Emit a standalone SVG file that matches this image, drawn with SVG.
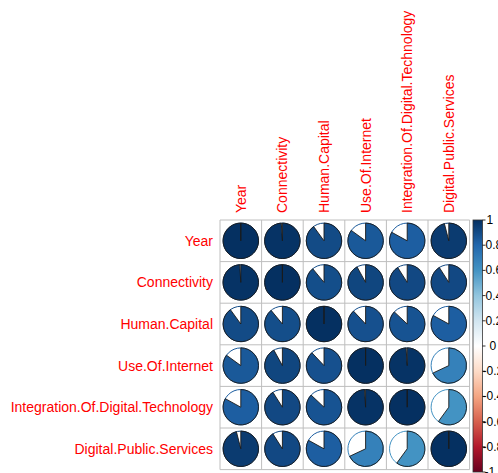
<svg xmlns="http://www.w3.org/2000/svg" width="498" height="473" viewBox="0 0 498 473">
<style>
.lbl{font-family:"Liberation Sans",Arial,sans-serif;font-size:14px;fill:#FF0000}
.cl{font-family:"Liberation Sans",Arial,sans-serif;font-size:12px;fill:#000}
.grid line{stroke:#BEBEBE;stroke-width:1}
.bg{fill:#fff;stroke-width:1}
.wd{stroke:#1a1a1a;stroke-width:0.9}
.tick{stroke:#000;stroke-width:0.8}
</style>
<defs>
<linearGradient id="rdbu" x1="0" y1="0" x2="0" y2="1">
<stop offset="0" stop-color="#053061"/>
<stop offset="0.1" stop-color="#2166AC"/>
<stop offset="0.2" stop-color="#4393C3"/>
<stop offset="0.3" stop-color="#92C5DE"/>
<stop offset="0.4" stop-color="#D1E5F0"/>
<stop offset="0.5" stop-color="#FFFFFF"/>
<stop offset="0.6" stop-color="#FDDBC7"/>
<stop offset="0.7" stop-color="#F4A582"/>
<stop offset="0.8" stop-color="#D6604D"/>
<stop offset="0.9" stop-color="#B2182B"/>
<stop offset="1" stop-color="#67001F"/>
</linearGradient>
</defs>
<rect width="498" height="473" fill="#fff"/>
<g id="col-labels">
<text class="lbl" dominant-baseline="central" transform="translate(240.8,213) rotate(-90)">Year</text>
<text class="lbl" dominant-baseline="central" transform="translate(282.4,213) rotate(-90)">Connectivity</text>
<text class="lbl" dominant-baseline="central" transform="translate(324,213) rotate(-90)">Human.Capital</text>
<text class="lbl" dominant-baseline="central" transform="translate(365.6,213) rotate(-90)">Use.Of.Internet</text>
<text class="lbl" dominant-baseline="central" transform="translate(407.2,213) rotate(-90)">Integration.Of.Digital.Technology</text>
<text class="lbl" dominant-baseline="central" transform="translate(448.8,213) rotate(-90)">Digital.Public.Services</text>
</g>
<g id="row-labels">
<text class="lbl" text-anchor="end" dominant-baseline="central" x="213" y="240.8">Year</text>
<text class="lbl" text-anchor="end" dominant-baseline="central" x="213" y="282.4">Connectivity</text>
<text class="lbl" text-anchor="end" dominant-baseline="central" x="213" y="324">Human.Capital</text>
<text class="lbl" text-anchor="end" dominant-baseline="central" x="213" y="365.6">Use.Of.Internet</text>
<text class="lbl" text-anchor="end" dominant-baseline="central" x="213" y="407.2">Integration.Of.Digital.Technology</text>
<text class="lbl" text-anchor="end" dominant-baseline="central" x="213" y="448.8">Digital.Public.Services</text>
</g>
<g id="grid" class="grid">
<line x1="220" y1="220" x2="220" y2="469.6"/>
<line x1="261.6" y1="220" x2="261.6" y2="469.6"/>
<line x1="303.2" y1="220" x2="303.2" y2="469.6"/>
<line x1="344.8" y1="220" x2="344.8" y2="469.6"/>
<line x1="386.4" y1="220" x2="386.4" y2="469.6"/>
<line x1="428" y1="220" x2="428" y2="469.6"/>
<line x1="469.6" y1="220" x2="469.6" y2="469.6"/>
<line x1="220" y1="220" x2="469.6" y2="220"/>
<line x1="220" y1="261.6" x2="469.6" y2="261.6"/>
<line x1="220" y1="303.2" x2="469.6" y2="303.2"/>
<line x1="220" y1="344.8" x2="469.6" y2="344.8"/>
<line x1="220" y1="386.4" x2="469.6" y2="386.4"/>
<line x1="220" y1="428" x2="469.6" y2="428"/>
<line x1="220" y1="469.6" x2="469.6" y2="469.6"/>
</g>
<g id="connectors"></g>
<!-- Row 0: Year -->
<g id="c00" transform="translate(240.8,240.8)"><circle class="bg" r="17.7" stroke="#053061"/><path class="wd" fill="#053061" d="M0 0V-17.7A17.7 17.7 0 1 1 -0.01 -17.7Z"/></g>
<g id="c01" transform="translate(282.4,240.8)"><circle class="bg" r="17.7" stroke="#063365"/><path class="wd" fill="#063365" d="M0 0V-17.7A17.7 17.7 0 1 1 -1.11 -17.67Z"/></g>
<g id="c02" transform="translate(324,240.8)"><circle class="bg" r="17.7" stroke="#134B86"/><path class="wd" fill="#134B86" d="M0 0V-17.7A17.7 17.7 0 1 1 -10.4 -14.32Z"/></g>
<g id="c03" transform="translate(365.6,240.8)"><circle class="bg" r="17.7" stroke="#1A5999"/><path class="wd" fill="#1A5999" d="M0 0V-17.7A17.7 17.7 0 1 1 -14.32 -10.4Z"/></g>
<g id="c04" transform="translate(407.2,240.8)"><circle class="bg" r="17.7" stroke="#1D5EA1"/><path class="wd" fill="#1D5EA1" d="M0 0V-17.7A17.7 17.7 0 1 1 -15.51 -8.53Z"/></g>
<g id="c05" transform="translate(448.8,240.8)"><circle class="bg" r="17.7" stroke="#0B3B70"/><path class="wd" fill="#0B3B70" d="M0 0V-17.7A17.7 17.7 0 1 1 -4.4 -17.14Z"/></g>
<!-- Row 1: Connectivity -->
<g id="c10" transform="translate(240.8,282.4)"><circle class="bg" r="17.7" stroke="#063365"/><path class="wd" fill="#063365" d="M0 0V-17.7A17.7 17.7 0 1 1 -1.11 -17.67Z"/></g>
<g id="c11" transform="translate(282.4,282.4)"><circle class="bg" r="17.7" stroke="#053061"/><path class="wd" fill="#053061" d="M0 0V-17.7A17.7 17.7 0 1 1 -0.01 -17.7Z"/></g>
<g id="c12" transform="translate(324,282.4)"><circle class="bg" r="17.7" stroke="#144E8A"/><path class="wd" fill="#144E8A" d="M0 0V-17.7A17.7 17.7 0 1 1 -11.28 -13.64Z"/></g>
<g id="c13" transform="translate(365.6,282.4)"><circle class="bg" r="17.7" stroke="#10467F"/><path class="wd" fill="#10467F" d="M0 0V-17.7A17.7 17.7 0 1 1 -8.53 -15.51Z"/></g>
<g id="c14" transform="translate(407.2,282.4)"><circle class="bg" r="17.7" stroke="#124883"/><path class="wd" fill="#124883" d="M0 0V-17.7A17.7 17.7 0 1 1 -9.48 -14.94Z"/></g>
<g id="c15" transform="translate(448.8,282.4)"><circle class="bg" r="17.7" stroke="#124883"/><path class="wd" fill="#124883" d="M0 0V-17.7A17.7 17.7 0 1 1 -9.48 -14.94Z"/></g>
<!-- Row 2: Human.Capital -->
<g id="c20" transform="translate(240.8,324)"><circle class="bg" r="17.7" stroke="#134B86"/><path class="wd" fill="#134B86" d="M0 0V-17.7A17.7 17.7 0 1 1 -10.4 -14.32Z"/></g>
<g id="c21" transform="translate(282.4,324)"><circle class="bg" r="17.7" stroke="#144E8A"/><path class="wd" fill="#144E8A" d="M0 0V-17.7A17.7 17.7 0 1 1 -11.28 -13.64Z"/></g>
<g id="c22" transform="translate(324,324)"><circle class="bg" r="17.7" stroke="#053061"/><path class="wd" fill="#053061" d="M0 0V-17.7A17.7 17.7 0 1 1 -0.01 -17.7Z"/></g>
<g id="c23" transform="translate(365.6,324)"><circle class="bg" r="17.7" stroke="#16508E"/><path class="wd" fill="#16508E" d="M0 0V-17.7A17.7 17.7 0 1 1 -12.12 -12.9Z"/></g>
<g id="c24" transform="translate(407.2,324)"><circle class="bg" r="17.7" stroke="#175392"/><path class="wd" fill="#175392" d="M0 0V-17.7A17.7 17.7 0 1 1 -12.9 -12.12Z"/></g>
<g id="c25" transform="translate(448.8,324)"><circle class="bg" r="17.7" stroke="#1D5EA1"/><path class="wd" fill="#1D5EA1" d="M0 0V-17.7A17.7 17.7 0 1 1 -15.51 -8.53Z"/></g>
<!-- Row 3: Use.Of.Internet -->
<g id="c30" transform="translate(240.8,365.6)"><circle class="bg" r="17.7" stroke="#1A5999"/><path class="wd" fill="#1A5999" d="M0 0V-17.7A17.7 17.7 0 1 1 -14.32 -10.4Z"/></g>
<g id="c31" transform="translate(282.4,365.6)"><circle class="bg" r="17.7" stroke="#10467F"/><path class="wd" fill="#10467F" d="M0 0V-17.7A17.7 17.7 0 1 1 -8.53 -15.51Z"/></g>
<g id="c32" transform="translate(324,365.6)"><circle class="bg" r="17.7" stroke="#16508E"/><path class="wd" fill="#16508E" d="M0 0V-17.7A17.7 17.7 0 1 1 -12.12 -12.9Z"/></g>
<g id="c33" transform="translate(365.6,365.6)"><circle class="bg" r="17.7" stroke="#053061"/><path class="wd" fill="#053061" d="M0 0V-17.7A17.7 17.7 0 1 1 -0.01 -17.7Z"/></g>
<g id="c34" transform="translate(407.2,365.6)"><circle class="bg" r="17.7" stroke="#063365"/><path class="wd" fill="#063365" d="M0 0V-17.7A17.7 17.7 0 1 1 -1.11 -17.67Z"/></g>
<g id="c35" transform="translate(448.8,365.6)"><circle class="bg" r="17.7" stroke="#3581BA"/><path class="wd" fill="#3581BA" d="M0 0V-17.7A17.7 17.7 0 1 1 -16.01 7.54Z"/></g>
<!-- Row 4: Integration -->
<g id="c40" transform="translate(240.8,407.2)"><circle class="bg" r="17.7" stroke="#1D5EA1"/><path class="wd" fill="#1D5EA1" d="M0 0V-17.7A17.7 17.7 0 1 1 -15.51 -8.53Z"/></g>
<g id="c41" transform="translate(282.4,407.2)"><circle class="bg" r="17.7" stroke="#124883"/><path class="wd" fill="#124883" d="M0 0V-17.7A17.7 17.7 0 1 1 -9.48 -14.94Z"/></g>
<g id="c42" transform="translate(324,407.2)"><circle class="bg" r="17.7" stroke="#175392"/><path class="wd" fill="#175392" d="M0 0V-17.7A17.7 17.7 0 1 1 -12.9 -12.12Z"/></g>
<g id="c43" transform="translate(365.6,407.2)"><circle class="bg" r="17.7" stroke="#063365"/><path class="wd" fill="#063365" d="M0 0V-17.7A17.7 17.7 0 1 1 -1.11 -17.67Z"/></g>
<g id="c44" transform="translate(407.2,407.2)"><circle class="bg" r="17.7" stroke="#053061"/><path class="wd" fill="#053061" d="M0 0V-17.7A17.7 17.7 0 1 1 -0.01 -17.7Z"/></g>
<g id="c45" transform="translate(448.8,407.2)"><circle class="bg" r="17.7" stroke="#4393C3"/><path class="wd" fill="#4393C3" d="M0 0V-17.7A17.7 17.7 0 1 1 -10.4 14.32Z"/></g>
<!-- Row 5: Digital.Public.Services -->
<g id="c50" transform="translate(240.8,448.8)"><circle class="bg" r="17.7" stroke="#0B3B70"/><path class="wd" fill="#0B3B70" d="M0 0V-17.7A17.7 17.7 0 1 1 -4.4 -17.14Z"/></g>
<g id="c51" transform="translate(282.4,448.8)"><circle class="bg" r="17.7" stroke="#124883"/><path class="wd" fill="#124883" d="M0 0V-17.7A17.7 17.7 0 1 1 -9.48 -14.94Z"/></g>
<g id="c52" transform="translate(324,448.8)"><circle class="bg" r="17.7" stroke="#1D5EA1"/><path class="wd" fill="#1D5EA1" d="M0 0V-17.7A17.7 17.7 0 1 1 -15.51 -8.53Z"/></g>
<g id="c53" transform="translate(365.6,448.8)"><circle class="bg" r="17.7" stroke="#3581BA"/><path class="wd" fill="#3581BA" d="M0 0V-17.7A17.7 17.7 0 1 1 -16.01 7.54Z"/></g>
<g id="c54" transform="translate(407.2,448.8)"><circle class="bg" r="17.7" stroke="#4393C3"/><path class="wd" fill="#4393C3" d="M0 0V-17.7A17.7 17.7 0 1 1 -10.4 14.32Z"/></g>
<g id="c55" transform="translate(448.8,448.8)"><circle class="bg" r="17.7" stroke="#053061"/><path class="wd" fill="#053061" d="M0 0V-17.7A17.7 17.7 0 1 1 -0.01 -17.7Z"/></g>
<g id="colorbar">
<rect x="473" y="220" width="9.5" height="252" fill="url(#rdbu)" stroke="#333" stroke-width="0.8"/>
<g class="tick">
<line x1="482.5" y1="220" x2="485.5" y2="220"/>
<line x1="482.5" y1="245.2" x2="485.5" y2="245.2"/>
<line x1="482.5" y1="270.4" x2="485.5" y2="270.4"/>
<line x1="482.5" y1="295.6" x2="485.5" y2="295.6"/>
<line x1="482.5" y1="320.8" x2="485.5" y2="320.8"/>
<line x1="482.5" y1="346" x2="485.5" y2="346"/>
<line x1="482.5" y1="371.2" x2="485.5" y2="371.2"/>
<line x1="482.5" y1="396.4" x2="485.5" y2="396.4"/>
<line x1="482.5" y1="421.6" x2="485.5" y2="421.6"/>
<line x1="482.5" y1="446.8" x2="485.5" y2="446.8"/>
<line x1="482.5" y1="472" x2="485.5" y2="472"/>
</g>
<text class="cl" x="486.5" y="220" dominant-baseline="central">1</text>
<text class="cl" x="485.5" y="245.2" dominant-baseline="central">0.8</text>
<text class="cl" x="485.5" y="270.4" dominant-baseline="central">0.6</text>
<text class="cl" x="485.5" y="295.6" dominant-baseline="central">0.4</text>
<text class="cl" x="485.5" y="320.8" dominant-baseline="central">0.2</text>
<text class="cl" x="489.5" y="346" dominant-baseline="central">0</text>
<text class="cl" x="482.5" y="371.2" dominant-baseline="central">-0.2</text>
<text class="cl" x="482.5" y="396.4" dominant-baseline="central">-0.4</text>
<text class="cl" x="482.5" y="421.6" dominant-baseline="central">-0.6</text>
<text class="cl" x="482.5" y="446.8" dominant-baseline="central">-0.8</text>
<text class="cl" x="484.5" y="472" dominant-baseline="central">-1</text>
</g>
</svg>
